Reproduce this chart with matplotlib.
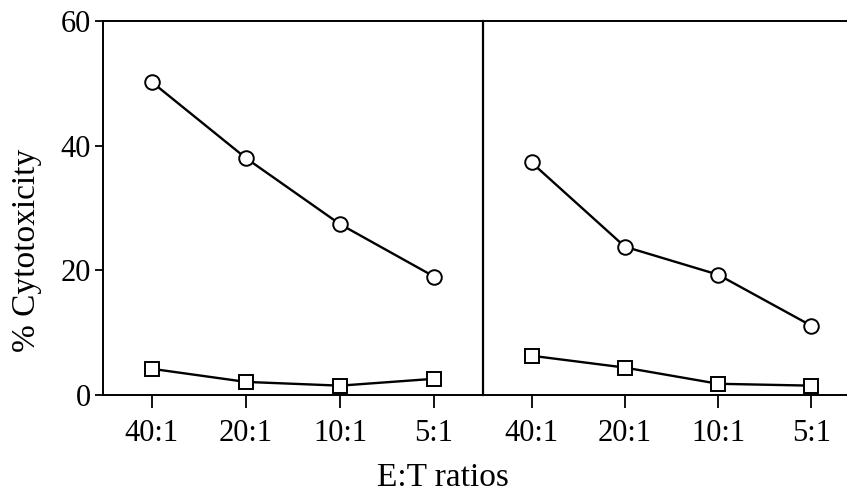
import matplotlib
matplotlib.use("Agg")
import matplotlib.pyplot as plt

# E:T ratio categories, same for both panels
ratios = ["40:1", "20:1", "10:1", "5:1"]

# left panel
left_circles = [50.2, 38.0, 27.4, 19.0]
left_squares = [4.2, 2.1, 1.5, 2.6]

# right panel
right_circles = [37.3, 23.8, 19.3, 11.1]
right_squares = [6.3, 4.4, 1.8, 1.5]

y_ticks = [0, 20, 40, 60]

plt.rcParams["font.family"] = ["Liberation Serif", "DejaVu Serif"]

W, H = 847, 493
fig = plt.figure(figsize=(W / 100, H / 100), dpi=100)

bottom = 1 - 395 / H
height = (395 - 21) / H
ax_l = fig.add_axes([103 / W, bottom, 380 / W, height])
ax_r = fig.add_axes([483 / W, bottom, 377 / W, height])
ax_r.patch.set_visible(False)  # don't cover the shared divider line

line_kw = dict(color="black", linewidth=1.7, markerfacecolor="white",
               markeredgecolor="black", markeredgewidth=1.4)


def draw_panel(ax, circles, squares):
    xs = range(len(ratios))
    ax.plot(xs, circles, marker="o", markersize=10.5, **line_kw)
    ax.plot(xs, squares, marker="s", markersize=10.5, **line_kw)
    ax.set_xlim(-0.52, 3.52)
    ax.set_ylim(0, 60)
    ax.set_xticks(list(xs))
    ax.set_xticklabels(ratios, fontsize=22)
    ax.tick_params(axis="x", direction="out", length=9, width=1.3, pad=8)
    for sp in ax.spines.values():
        sp.set_linewidth(1.4)


draw_panel(ax_l, left_circles, left_squares)
draw_panel(ax_r, right_circles, right_squares)

ax_l.set_yticks(y_ticks)
ax_l.set_yticklabels([str(v) for v in y_ticks], fontsize=22)
ax_l.tick_params(axis="y", direction="out", length=6, width=1.3, pad=3)

ax_r.set_yticks([])
ax_r.spines["left"].set_visible(False)
ax_r.spines["right"].set_visible(False)
ax_l.spines["right"].set_linewidth(1.6)

fig.text(27 / W, 1 - 250 / H, "% Cytotoxicity", rotation=90,
         ha="center", va="center", fontsize=24)
fig.text(443 / W, 1 - 486 / H, "E:T ratios", ha="center", va="baseline",
         fontsize=24)

fig.savefig("out.png", dpi=100)
